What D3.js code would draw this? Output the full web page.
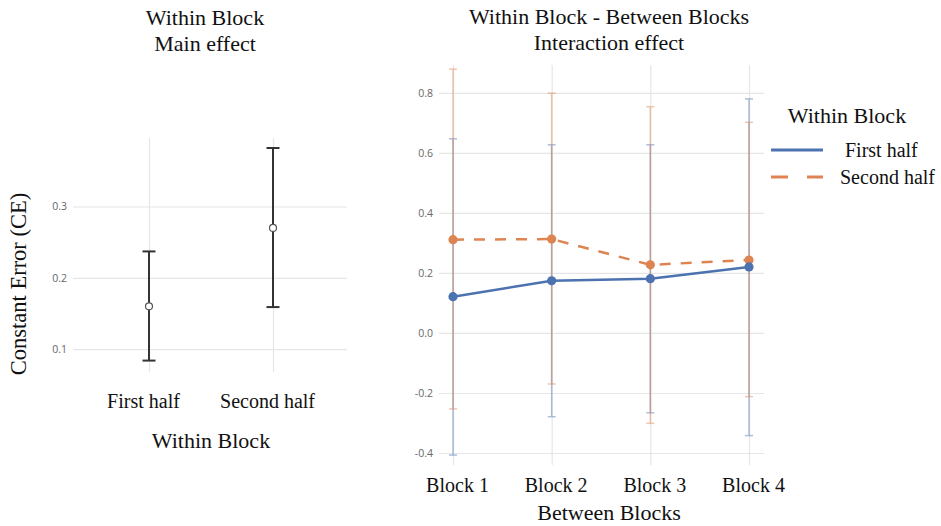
<!DOCTYPE html>
<html>
<head>
<meta charset="utf-8">
<script src="https://cdn.jsdelivr.net/npm/d3@7"></script>
<style>
  html, body { margin: 0; padding: 0; background: #fff; }
  svg { display: block; }
</style>
</head>
<body>
<svg id="chart" width="941" height="526"></svg>
<script>
// ---- Data ----
const leftCats = ["First half", "Second half"];
const leftMeans = [0.160, 0.270];
const leftLower = [0.084, 0.159];
const leftUpper = [0.237, 0.382];
const leftTicks = [0.1, 0.2, 0.3];

const blocks = ["Block 1", "Block 2", "Block 3", "Block 4"];
const seriesNames = ["First half", "Second half"];
const firstMeans = [0.121, 0.174, 0.181, 0.220];
const firstLower = [-0.407, -0.279, -0.266, -0.342];
const firstUpper = [0.647, 0.627, 0.627, 0.780];
const secondMeans = [0.311, 0.313, 0.227, 0.243];
const secondLower = [-0.253, -0.170, -0.301, -0.212];
const secondUpper = [0.879, 0.799, 0.754, 0.702];
const rightTicks = [-0.4, -0.2, 0.0, 0.2, 0.4, 0.6, 0.8];

const BLUE = "#4c72b0", ORANGE = "#dd8452";
const SERIF = "'Liberation Serif', 'Times New Roman', serif";
const SANS = "'Open Sans', 'DejaVu Sans', sans-serif";
const GRID = "#e6e6e6";

const svg = d3.select("#chart");
const fmt = d => d.toFixed(1);

function styleAxis(g) {
  g.select(".domain").remove();
  g.selectAll(".tick line").attr("stroke", GRID).attr("stroke-width", 1.2);
}

// ---- Left panel ----
(function () {
  const L = { left: 73, right: 347, top: 138, bottom: 372 };
  const y = d3.scaleLinear().domain([0.068, 0.396]).range([L.bottom, L.top]);
  const x = d3.scalePoint().domain(leftCats).range([149, 273]);
  const g = svg.append("g");

  g.append("g").attr("transform", `translate(${L.left},0)`)
    .call(d3.axisLeft(y).tickValues(leftTicks).tickFormat(fmt)
      .tickSize(-(L.right - L.left)).tickPadding(6))
    .call(styleAxis)
    .call(a => a.selectAll(".tick text").attr("fill", "#666")
      .attr("font-family", SANS).attr("font-size", 10.5));

  g.append("g").attr("transform", `translate(0,${L.bottom})`)
    .call(d3.axisBottom(x).tickSize(-(L.bottom - L.top)).tickPadding(0))
    .call(styleAxis)
    .call(a => a.selectAll(".tick text").attr("fill", "#111")
      .attr("font-family", SERIF).attr("font-size", 20)
      .attr("dy", 0).attr("y", 36).attr("dx", -6));

  const data = leftCats.map((c, i) => ({ c, m: leftMeans[i], lo: leftLower[i], hi: leftUpper[i] }));
  const eb = g.append("g").selectAll("g").data(data).join("g");
  eb.append("line").attr("x1", d => x(d.c)).attr("x2", d => x(d.c))
    .attr("y1", d => y(d.lo)).attr("y2", d => y(d.hi))
    .attr("stroke", "#333").attr("stroke-width", 2);
  [d => d.lo, d => d.hi].forEach(f => {
    eb.append("line").attr("x1", d => x(d.c) - 6.5).attr("x2", d => x(d.c) + 6.5)
      .attr("y1", d => y(f(d))).attr("y2", d => y(f(d)))
      .attr("stroke", "#333").attr("stroke-width", 2);
  });
  eb.append("circle").attr("cx", d => x(d.c)).attr("cy", d => y(d.m)).attr("r", 3.5)
    .attr("fill", "#fff").attr("stroke", "#555").attr("stroke-width", 1.2);

  g.append("text").attr("x", 205).attr("y", 25).attr("text-anchor", "middle")
    .attr("font-family", SERIF).attr("font-size", 22).attr("fill", "#111").text("Within Block");
  g.append("text").attr("x", 205).attr("y", 51).attr("text-anchor", "middle")
    .attr("font-family", SERIF).attr("font-size", 22).attr("fill", "#111").text("Main effect");
  g.append("text").attr("x", 211).attr("y", 448).attr("text-anchor", "middle")
    .attr("font-family", SERIF).attr("font-size", 22).attr("fill", "#111").text("Within Block");
  g.append("text").attr("transform", "translate(26,284) rotate(-90)").attr("text-anchor", "middle")
    .attr("font-family", SERIF).attr("font-size", 22.5).attr("fill", "#111").text("Constant Error (CE)");
})();

// ---- Right panel ----
(function () {
  const R = { left: 439, right: 764, top: 65, bottom: 465 };
  const y = d3.scaleLinear().domain([-0.44, 0.893]).range([R.bottom, R.top]);
  const x = d3.scalePoint().domain(blocks).range([453, 749]);
  const g = svg.append("g");

  g.append("g").attr("transform", `translate(${R.left},0)`)
    .call(d3.axisLeft(y).tickValues(rightTicks).tickFormat(fmt)
      .tickSize(-(R.right - R.left)).tickPadding(6))
    .call(styleAxis)
    .call(a => a.selectAll(".tick text").attr("fill", "#666")
      .attr("font-family", SANS).attr("font-size", 10.5));

  g.append("g").attr("transform", `translate(0,${R.bottom})`)
    .call(d3.axisBottom(x).tickSize(-(R.bottom - R.top)).tickPadding(0))
    .call(styleAxis)
    .call(a => a.selectAll(".tick text").attr("fill", "#111")
      .attr("font-family", SERIF).attr("font-size", 20)
      .attr("dy", 0).attr("y", 27).attr("dx", 4));

  const series = [
    { name: seriesNames[0], color: BLUE, dash: null, means: firstMeans, lo: firstLower, hi: firstUpper },
    { name: seriesNames[1], color: ORANGE, dash: "11,10", means: secondMeans, lo: secondLower, hi: secondUpper }
  ];

  // error bars
  series.forEach(s => {
    const d = blocks.map((b, i) => ({ b, lo: s.lo[i], hi: s.hi[i] }));
    const eg = g.append("g").attr("opacity", 0.45);
    eg.selectAll("line.v").data(d).join("line").attr("class", "v")
      .attr("x1", e => x(e.b)).attr("x2", e => x(e.b))
      .attr("y1", e => y(e.lo)).attr("y2", e => y(e.hi))
      .attr("stroke", s.color).attr("stroke-width", 1.5);
    ["lo", "hi"].forEach(k => {
      eg.selectAll("line." + k).data(d).join("line").attr("class", k)
        .attr("x1", e => x(e.b) - 4).attr("x2", e => x(e.b) + 4)
        .attr("y1", e => y(e[k])).attr("y2", e => y(e[k]))
        .attr("stroke", s.color).attr("stroke-width", 1.5);
    });
  });

  // lines + markers
  const line = d3.line().x(d => x(d.b)).y(d => y(d.v));
  series.slice().reverse().forEach(s => {
    const d = blocks.map((b, i) => ({ b, v: s.means[i] }));
    g.append("path").datum(d).attr("d", line).attr("fill", "none")
      .attr("stroke", s.color).attr("stroke-width", 2.5)
      .attr("stroke-dasharray", s.dash);
    g.append("g").selectAll("circle").data(d).join("circle")
      .attr("cx", e => x(e.b)).attr("cy", e => y(e.v)).attr("r", 4.6)
      .attr("fill", s.color);
  });

  // titles
  g.append("text").attr("x", 609).attr("y", 24).attr("text-anchor", "middle")
    .attr("font-family", SERIF).attr("font-size", 22).attr("fill", "#111").text("Within Block - Between Blocks");
  g.append("text").attr("x", 609).attr("y", 50).attr("text-anchor", "middle")
    .attr("font-family", SERIF).attr("font-size", 22).attr("fill", "#111").text("Interaction effect");
  g.append("text").attr("x", 609).attr("y", 520).attr("text-anchor", "middle")
    .attr("font-family", SERIF).attr("font-size", 22).attr("fill", "#111").text("Between Blocks");

  // legend
  const lg = g.append("g");
  lg.append("text").attr("x", 847).attr("y", 123).attr("text-anchor", "middle")
    .attr("font-family", SERIF).attr("font-size", 22).attr("fill", "#111").text("Within Block");
  const items = [
    { s: series[0], y: 150, tx: 845, dash: null },
    { s: series[1], y: 177, tx: 840, dash: "17,19" }
  ];
  items.forEach(it => {
    lg.append("line").attr("x1", 771).attr("x2", 823).attr("y1", it.y).attr("y2", it.y)
      .attr("stroke", it.s.color).attr("stroke-width", 3.2).attr("stroke-dasharray", it.dash);
    lg.append("text").attr("x", it.tx).attr("y", it.y + 7)
      .attr("font-family", SERIF).attr("font-size", 20).attr("fill", "#111").text(it.s.name);
  });
})();
</script>
</body>
</html>
